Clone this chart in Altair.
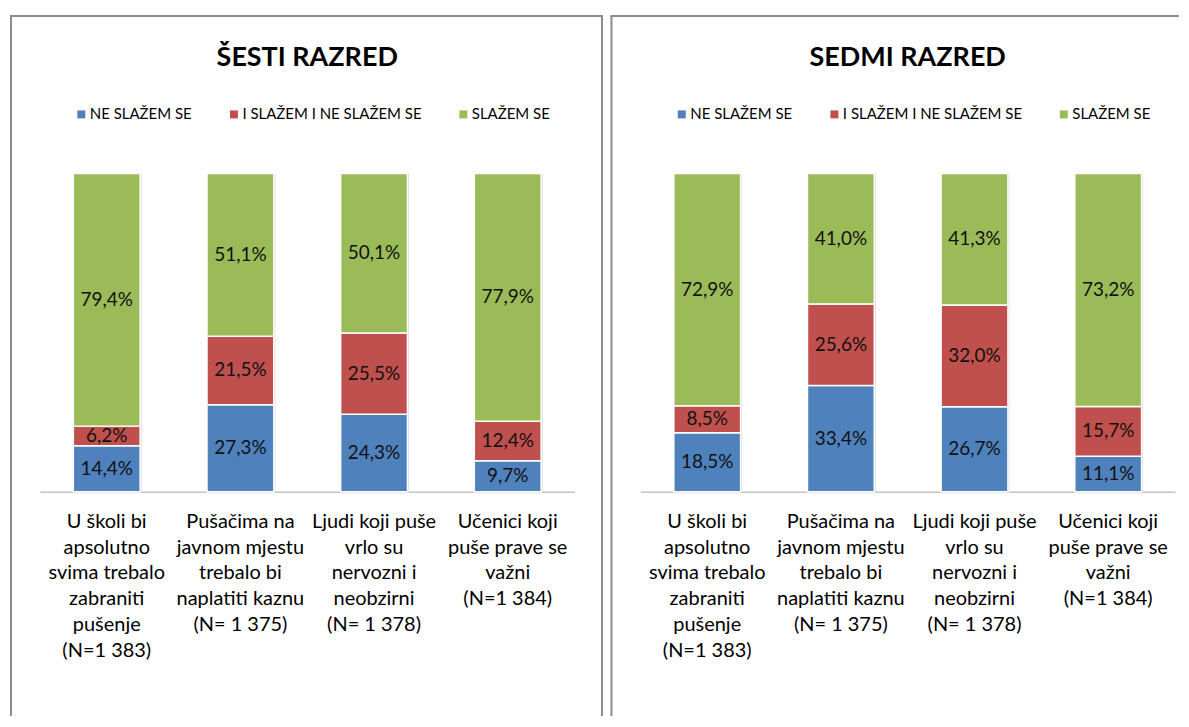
import altair as alt
import pandas as pd

# ---------------- data ----------------
categories = [
    "U školi bi\napsolutno\nsvima trebalo\nzabraniti\npušenje\n(N=1 383)",
    "Pušačima na\njavnom mjestu\ntrebalo bi\nnaplatiti kaznu\n(N= 1 375)",
    "Ljudi koji puše\nvrlo su\nnervozni i\nneobzirni\n(N= 1 378)",
    "Učenici koji\npuše prave se\nvažni\n(N=1 384)",
]
series = ["NE SLAŽEM SE", "I SLAŽEM I NE SLAŽEM SE", "SLAŽEM SE"]
colors = ["#4F81BD", "#C0504D", "#9BBB59"]

sesti_ne = [14.4, 27.3, 24.3, 9.7]
sesti_i = [6.2, 21.5, 25.5, 12.4]
sesti_da = [79.4, 51.1, 50.1, 77.9]

sedmi_ne = [18.5, 33.4, 26.7, 11.1]
sedmi_i = [8.5, 25.6, 32.0, 15.7]
sedmi_da = [72.9, 41.0, 41.3, 73.2]

titles = ["ŠESTI RAZRED", "SEDMI RAZRED"]

# ---------------- styling ----------------
F = "Lato, 'Open Sans', sans-serif"
W, H = 536, 319
BORDER = "#8c8c8c"


def make_df(ne, mid, da):
    rows = []
    for s_idx, (name, vals) in enumerate(zip(series, [ne, mid, da])):
        for c, v in zip(categories, vals):
            rows.append({
                "cat": c,
                "series": name,
                "ord": s_idx,
                "value": v,
                "lab": f"{v:.1f}%".replace(".", ","),
            })
    return pd.DataFrame(rows)


def rule(x, x2, y, y2):
    return alt.Chart(pd.DataFrame({"k": [0]})).mark_rule(
        color=BORDER, strokeWidth=2
    ).encode(x=alt.value(x), x2=alt.value(x2), y=alt.value(y), y2=alt.value(y2))


def panel(title, ne, mid, da, right=False):
    df = make_df(ne, mid, da)
    X = alt.X(
        "cat:N",
        sort=categories,
        scale=alt.Scale(paddingInner=0.5, paddingOuter=0.25),
        axis=alt.Axis(labels=False, ticks=False, title=None, grid=False,
                      domainColor="#a6a6a6", domainWidth=1),
    )
    yscale = alt.Scale(domain=[0, 1])

    base = alt.Chart(df).transform_stack(
        stack="value",
        groupby=["cat"],
        as_=["y0", "y1"],
        offset="normalize",
        sort=[alt.SortField("ord", order="ascending")],
    ).transform_calculate(mid="(datum.y0 + datum.y1) / 2")

    bars = base.mark_bar(stroke="white", strokeWidth=1.5).encode(
        x=X,
        y=alt.Y("y0:Q", scale=yscale, axis=None),
        y2="y1:Q",
        color=alt.Color(
            "series:N",
            scale=alt.Scale(domain=series, range=colors),
            legend=alt.Legend(
                title=None, orient="none", legendX=34, legendY=-67,
                direction="horizontal", columns=3, symbolType="square",
                symbolSize=64, symbolStrokeWidth=0, labelFontSize=15,
                labelFont=F, labelColor="#000000", columnPadding=34,
                labelLimit=400, padding=0, labelOffset=1,
            ),
        ),
    )

    shadow = alt.Chart(pd.DataFrame({"cat": categories})).mark_bar(
        color="#d9d9d9", xOffset=1.5, yOffset=1.5
    ).encode(x=X, y=alt.Y(datum=0, scale=yscale, axis=None), y2=alt.datum(1))

    labels = base.mark_text(fontSize=19, font=F, color="#111111").encode(
        x=X,
        y=alt.Y("mid:Q", scale=yscale, axis=None),
        text="lab:N",
    )

    cat_labels = alt.Chart(pd.DataFrame({"cat": categories})).mark_text(
        lineBreak="\n", baseline="top", fontSize=20, lineHeight=26,
        font=F, color="#000000",
    ).encode(x=X, y=alt.value(H + 20), text="cat:N")

    ttl = alt.Chart(pd.DataFrame({"t": [title]})).mark_text(
        fontSize=27, fontWeight="bold", font=F, baseline="alphabetic",
        color="#000000",
    ).encode(x=alt.value(W / 2), y=alt.value(-108), text="t:N")

    if not right:
        borders = [
            rule(-30, 564.5, -158, -158),
            rule(-29, -29, -158, 544),
            rule(563.5, 563.5, -158, 544),
        ]
    else:
        borders = [
            rule(-30, 540, -158, -158),
            rule(-29, -29, -158, 544),
        ]

    return alt.layer(*borders, shadow, bars, labels, cat_labels, ttl).properties(
        width=W, height=H
    )


left = panel(titles[0], sesti_ne, sesti_i, sesti_da)
right = panel(titles[1], sedmi_ne, sedmi_i, sedmi_da, right=True)

chart = alt.hconcat(left, right, spacing=66, bounds="flush").resolve_scale(
    color="independent"
).configure_view(stroke="transparent").properties(
    padding={"left": 0, "top": 5, "right": 0, "bottom": 0},
    background="white",
)

chart.save("out.html", embed_options={"renderer": "svg", "actions": False})
